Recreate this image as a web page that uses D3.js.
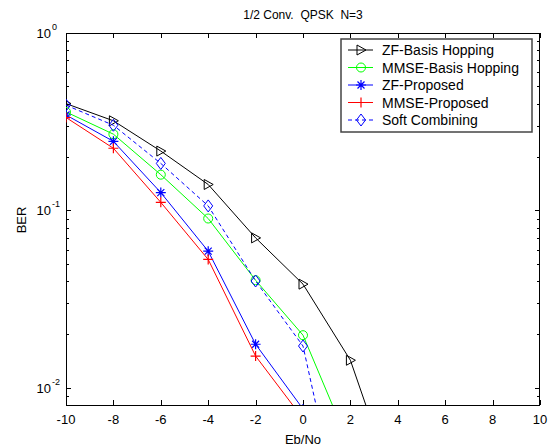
<!DOCTYPE html>
<html>
<head>
<meta charset="utf-8">
<script src="https://cdn.jsdelivr.net/npm/d3@7"></script>
<style>
body { margin: 0; background: #fff; }
text { font-family: "Liberation Sans", Arial, sans-serif; fill: #000; }
</style>
</head>
<body>
<svg id="chart" width="552" height="446"></svg>
<script>
// Eb/No points
var ebno = [-10, -8, -6, -4, -2, 0, 2, 4];
var zfBasis = [0.40, 0.32, 0.216, 0.14, 0.070, 0.0384, 0.0143, 0.0024];
var mmseBasis = [0.359, 0.269, 0.159, 0.090, 0.0404, 0.0198, 0.0046];
var zfProposed = [0.345, 0.245, 0.126, 0.0589, 0.0176, 0.0076];
var mmseProposed = [0.334, 0.224, 0.111, 0.0529, 0.0151, 0.0067];
var softComb = [0.392, 0.302, 0.184, 0.106, 0.040, 0.0172, 0.00106];
var xTicks = [-10, -8, -6, -4, -2, 0, 2, 4, 6, 8, 10];
var yDecades = [1, 0.1, 0.01];

var series = [
  {name: "ZF-Basis Hopping", vals: zfBasis, color: "#000", dash: null, mark: "tri"},
  {name: "MMSE-Basis Hopping", vals: mmseBasis, color: "#00ff00", dash: null, mark: "circle"},
  {name: "ZF-Proposed", vals: zfProposed, color: "#0000ff", dash: null, mark: "star"},
  {name: "MMSE-Proposed", vals: mmseProposed, color: "#ff0000", dash: null, mark: "plus"},
  {name: "Soft Combining", vals: softComb, color: "#0000ff", dash: "4,3", mark: "diamond"}
];

var L = 66, R = 540, T = 33, B = 405;
var svg = d3.select("#chart");
var x = d3.scaleLinear().domain([-10, 10]).range([L, R]);
var y = d3.scaleLog().domain([0.008, 1]).range([B, T]);

svg.append("defs").append("clipPath").attr("id", "clip")
  .append("rect").attr("x", L).attr("y", T).attr("width", R - L).attr("height", B - T);

// ticks (inward on all sides)
var g = svg.append("g").attr("stroke", "#000").attr("stroke-width", 1);
xTicks.forEach(function(t) {
  var px = Math.round(x(t)) + 0.5;
  g.append("line").attr("x1", px).attr("x2", px).attr("y1", B).attr("y2", B - 5);
  g.append("line").attr("x1", px).attr("x2", px).attr("y1", T).attr("y2", T + 5);
  svg.append("text").attr("x", x(t)).attr("y", B + 19).attr("text-anchor", "middle")
    .attr("font-size", 13).text(t);
});
var minor = [];
[0.001, 0.01, 0.1].forEach(function(d) {
  for (var k = 2; k <= 9; k++) { var v = d * k; if (v >= 0.008 && v < 1) minor.push(v); }
});
minor.forEach(function(v) {
  var py = Math.round(y(v)) + 0.5;
  g.append("line").attr("x1", L).attr("x2", L + 3).attr("y1", py).attr("y2", py);
  g.append("line").attr("x1", R).attr("x2", R - 3).attr("y1", py).attr("y2", py);
});
yDecades.forEach(function(v) {
  var py = Math.round(y(v)) + 0.5;
  g.append("line").attr("x1", L).attr("x2", L + 5).attr("y1", py).attr("y2", py);
  g.append("line").attr("x1", R).attr("x2", R - 5).attr("y1", py).attr("y2", py);
  svg.append("text").attr("x", 51).attr("y", y(v) + 5).attr("text-anchor", "end")
    .attr("font-size", 13).text("10");
  svg.append("text").attr("x", 52).attr("y", y(v) - 3).attr("font-size", 9)
    .text(Math.round(Math.log10(v)));
});

svg.append("rect").attr("x", L + 0.5).attr("y", T + 0.5).attr("width", R - L - 1).attr("height", B - T)
  .attr("fill", "none").attr("stroke", "#000");

// marker drawer
function drawMark(sel, type, color) {
  if (type === "tri") {
    sel.append("path").attr("d", "M-4,-5L5,0L-4,5Z").attr("fill", "none").attr("stroke", color);
  } else if (type === "circle") {
    sel.append("circle").attr("r", 4.5).attr("fill", "none").attr("stroke", color);
  } else if (type === "diamond") {
    sel.append("path").attr("d", "M0,-6L4.5,0L0,6L-4.5,0Z").attr("fill", "none").attr("stroke", color);
  } else if (type === "plus") {
    sel.append("path").attr("d", "M-5,0H5M0,-5V5").attr("stroke", color).attr("stroke-width", 1.2);
  } else if (type === "star") {
    sel.append("path").attr("d", "M-5,0H5M0,-5V5M-3.5,-3.5L3.5,3.5M-3.5,3.5L3.5,-3.5")
      .attr("stroke", color).attr("stroke-width", 1.2);
  }
}

var line = d3.line().x(function(d) { return x(d[0]); }).y(function(d) { return y(d[1]); });
var plot = svg.append("g").attr("clip-path", "url(#clip)");
series.forEach(function(s) {
  var pts = s.vals.map(function(v, i) { return [ebno[i], v]; });
  plot.append("path").datum(pts).attr("d", line).attr("fill", "none")
    .attr("stroke", s.color).attr("stroke-width", 1)
    .attr("stroke-dasharray", s.dash);
  pts.forEach(function(p) {
    var m = plot.append("g").attr("transform", "translate(" + x(p[0]) + "," + y(p[1]) + ")");
    drawMark(m, s.mark, s.color);
  });
});

// legend
var lg = svg.append("g");
lg.append("rect").attr("x", 341).attr("y", 39).attr("width", 191).attr("height", 93)
  .attr("fill", "#fff").attr("stroke", "#444").attr("stroke-width", 1.5);
series.forEach(function(s, i) {
  var cy = 50 + i * 17.5;
  lg.append("line").attr("x1", 348).attr("x2", 373).attr("y1", cy).attr("y2", cy)
    .attr("stroke", s.color).attr("stroke-dasharray", s.dash);
  drawMark(lg.append("g").attr("transform", "translate(361," + cy + ")"), s.mark, s.color);
  lg.append("text").attr("x", 382).attr("y", cy + 5).attr("font-size", 14).text(s.name);
});

// titles
svg.append("text").attr("x", 303).attr("y", 19).attr("text-anchor", "middle")
  .attr("font-size", 12).attr("xml:space", "preserve").text("1/2 Conv.  QPSK  N=3");
svg.append("text").attr("x", 303).attr("y", 444).attr("text-anchor", "middle")
  .attr("font-size", 13).text("Eb/No");
svg.append("text").attr("transform", "translate(26,220) rotate(-90)").attr("text-anchor", "middle")
  .attr("font-size", 13).text("BER");
</script>
</body>
</html>
